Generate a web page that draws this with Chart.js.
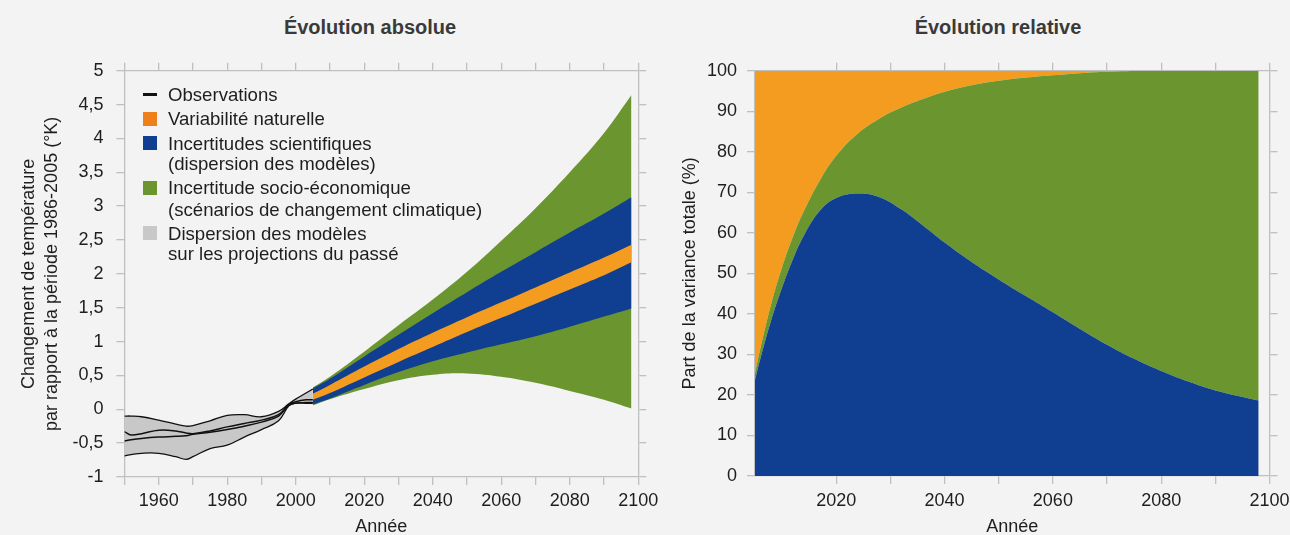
<!DOCTYPE html>
<html>
<head>
<meta charset="utf-8">
<script src="https://cdn.jsdelivr.net/npm/chart.js@4.4.1/dist/chart.umd.min.js"></script>
<style>
html,body{margin:0;padding:0;background:#f3f3f3;width:1290px;height:535px;overflow:hidden;font-family:"Liberation Sans",Arial,sans-serif;}
.wrap{position:absolute;top:0;height:535px}
#w1{left:0;width:670px}
#w2{left:650px;width:640px}
.title{position:absolute;top:15px;font-weight:bold;font-size:20px;line-height:24px;color:#3a3a3a;text-align:center;width:400px;white-space:nowrap}
.lg{position:absolute;font-size:18.6px;line-height:21px;color:#1e1e1e;white-space:nowrap}
.sw{position:absolute;width:14px;height:14px}
</style>
</head>
<body>
<div class="title" style="left:170px">Évolution absolue</div>
<div class="title" style="left:798px">Évolution relative</div>
<div class="wrap" id="w1"><canvas id="c1" width="670" height="535"></canvas></div>
<div class="wrap" id="w2"><canvas id="c2" width="640" height="535"></canvas></div>

<div class="sw" style="left:143px;top:93px;height:2.5px;background:#111"></div>
<div class="lg" style="left:168px;top:84px">Observations</div>
<div class="sw" style="left:143px;top:112px;background:#ee7f1b"></div>
<div class="lg" style="left:168px;top:108px">Variabilité naturelle</div>
<div class="sw" style="left:143px;top:136px;background:#103f91"></div>
<div class="lg" style="left:168px;top:132.5px">Incertitudes scientifiques</div>
<div class="lg" style="left:168px;top:153.3px">(dispersion des modèles)</div>
<div class="sw" style="left:143px;top:181px;background:#6b962f"></div>
<div class="lg" style="left:168px;top:177.3px">Incertitude socio-économique</div>
<div class="lg" style="left:168px;top:198.6px">(scénarios de changement climatique)</div>
<div class="sw" style="left:143px;top:226px;background:#c7c8c7"></div>
<div class="lg" style="left:168px;top:222.6px">Dispersion des modèles</div>
<div class="lg" style="left:168px;top:243.3px">sur les projections du passé</div>

<script>
// ---------- Left chart data (°K relative to 1986-2005) ----------
const histYears = [1950,1952,1955,1960,1965,1968,1970,1975,1980,1985,1990,1995,1998,2000,2003,2005];
const histUpper = [-0.10,-0.10,-0.11,-0.16,-0.22,-0.25,-0.24,-0.17,-0.09,-0.08,-0.11,-0.03,0.08,0.15,0.24,0.30];
const histLower = [-0.69,-0.67,-0.65,-0.65,-0.70,-0.74,-0.70,-0.58,-0.53,-0.41,-0.30,-0.17,0.05,0.09,0.10,0.10];
const obsA      = [-0.33,-0.38,-0.36,-0.31,-0.32,-0.35,-0.36,-0.32,-0.26,-0.21,-0.16,-0.08,0.07,0.11,0.14,0.14];
const obsB      = [-0.47,-0.45,-0.43,-0.41,-0.40,-0.39,-0.37,-0.34,-0.30,-0.25,-0.19,-0.10,0.06,0.09,0.09,0.09];

const projYears   = [2005,2010,2020,2030,2040,2050,2060,2070,2080,2090,2098];
const socioHigh   = [0.32,0.48,0.85,1.24,1.62,2.03,2.49,2.97,3.50,4.08,4.64];
const modelHigh   = [0.31,0.45,0.78,1.10,1.42,1.73,2.03,2.32,2.61,2.89,3.13];
const naturalHigh = [0.23,0.36,0.63,0.89,1.13,1.36,1.58,1.80,2.02,2.24,2.43];
const naturalLow  = [0.14,0.24,0.47,0.70,0.92,1.14,1.35,1.56,1.77,1.98,2.17];
const modelLow    = [0.07,0.16,0.36,0.55,0.71,0.84,0.96,1.08,1.22,1.37,1.49];
const socioLow    = [0.06,0.15,0.30,0.43,0.51,0.53,0.48,0.39,0.27,0.14,0.01];

// ---------- Right chart data (% of total variance) ----------
const shareYears    = [2005,2006,2008,2010,2012,2014,2017,2020,2024,2028,2032,2036,2040,2045,2050,2055,2060,2065,2070,2075,2080,2085,2090,2098];
const shareModel    = [23.7,29,38.5,46.5,53.5,59.3,65.5,68.6,69.7,68.8,65.8,61.8,57.6,52.8,48.5,44.4,40.4,36.3,32.4,28.9,25.9,23.3,21.1,18.6];
const shareScenario = [1.6,2.5,4,5,5.5,6,7.5,10.4,14.8,19.4,25.1,31.2,37.2,43.6,49,53.9,58.5,63.1,67.35,71.05,74.1,76.7,78.9,81.4];
const shareNatural  = [74.7,68.5,57.5,48.5,41,34.7,27,21,15.5,11.8,9.1,7,5.2,3.6,2.5,1.7,1.1,0.6,0.25,0.05,0,0,0,0];

const C_GREEN = '#6b962f', C_BLUE = '#103f91', C_ORANGE = '#f49c20', C_GRAY = '#c7c8c7';
const GRID = '#c0c0c0', TXT = '#1e1e1e';
const FONT = '"Liberation Sans", Arial, sans-serif';
Chart.defaults.font.family = FONT;
Chart.defaults.font.size = 18;
Chart.defaults.color = TXT;

const pts = (xs, ys) => xs.map((x, i) => ({x: x, y: ys[i]}));
function fix(w, h) {
  return function (s) {
    if (w !== null) s.width = w;
    if (h !== null) s.height = h;
    s.paddingLeft = 0; s.paddingRight = 0; s.paddingTop = 0; s.paddingBottom = 0;
  };
}
const gridOpt = {drawOnChartArea: false, drawTicks: true, tickLength: 8, color: GRID, lineWidth: 1.3};
const borderOpt = {display: true, color: GRID, width: 1.3};

function band(data, fillTarget, color, order) {
  return {data: data, borderWidth: 0, pointRadius: 0, backgroundColor: color, borderColor: color,
          fill: fillTarget === null ? false : {target: fillTarget}, tension: 0.4, order: order};
}
function blackLine(data, w, fillTarget, order) {
  return {data: data, borderWidth: w, pointRadius: 0, borderColor: '#111', backgroundColor: C_GRAY,
          fill: fillTarget === null ? false : {target: fillTarget}, tension: 0.4, order: order};
}

new Chart(document.getElementById('c1'), {
  type: 'line',
  data: {
    datasets: [
      blackLine(pts(histYears, obsA), 1.5, null, 0),
      blackLine(pts(histYears, obsB), 1.5, null, 0),
      blackLine(pts(histYears, histUpper), 1.3, 3, 1),
      blackLine(pts(histYears, histLower), 1.3, null, 1),
      band(pts(projYears, naturalHigh), 5, C_ORANGE, 2),
      band(pts(projYears, naturalLow), null, C_ORANGE, 2),
      band(pts(projYears, modelHigh), 7, C_BLUE, 3),
      band(pts(projYears, modelLow), null, C_BLUE, 3),
      band(pts(projYears, socioHigh), 9, C_GREEN, 4),
      band(pts(projYears, socioLow), null, C_GREEN, 4)
    ]
  },
  options: {
    responsive: false, animation: false, devicePixelRatio: 1, events: [],
    layout: {padding: {left: 0, right: 23.7, top: 62.7, bottom: 0}},
    plugins: {legend: {display: false}, tooltip: {enabled: false}, filler: {drawTime: 'beforeDatasetsDraw'}},
    scales: {
      x: {type: 'linear', position: 'bottom', min: 1950, max: 2100,
          ticks: {stepSize: 10, autoSkip: false, maxRotation: 0, padding: 5, color: TXT,
                  callback: v => (v % 20 === 0 ? String(v) : '')},
          grid: gridOpt, border: borderOpt,
          title: {display: true, text: 'Année', color: TXT, font: {size: 18, lineHeight: 0.85}, padding: 0},
          afterFit: fix(null, 58)},
      x2: {type: 'linear', position: 'top', min: 1950, max: 2100,
           ticks: {stepSize: 10, autoSkip: false, display: false},
           grid: gridOpt, border: borderOpt, afterFit: fix(null, 8)},
      y: {type: 'linear', position: 'left', min: -1, max: 5,
          ticks: {stepSize: 0.5, autoSkip: false, padding: 13, color: TXT,
                  callback: v => String(Math.round(v * 10) / 10).replace('.', ',')},
          grid: gridOpt, border: borderOpt,
          title: {display: true, color: TXT,
                  text: ['Changement de température', 'par rapport à la période 1986-2005 (°K)'],
                  font: {size: 18, lineHeight: 1.278}, padding: {top: 17.3, bottom: 0}},
          afterFit: fix(124.4, null)},
      y2: {type: 'linear', position: 'right', min: -1, max: 5,
           ticks: {stepSize: 0.5, autoSkip: false, display: false},
           grid: gridOpt, border: borderOpt, afterFit: fix(8, null)}
    }
  }
});

function area(data, color, fill) {
  return {data: data, borderWidth: 0, pointRadius: 0, backgroundColor: color, borderColor: color,
          fill: fill, tension: 0.4};
}
const tens = s => { s.ticks = s.ticks.filter(t => Math.abs(t.value % 10) < 1e-9); };

new Chart(document.getElementById('c2'), {
  type: 'line',
  data: {
    datasets: [
      area(pts(shareYears, shareModel), C_BLUE, 'origin'),
      area(pts(shareYears, shareScenario), C_GREEN, '-1'),
      area(pts(shareYears, shareNatural), C_ORANGE, '-1')
    ]
  },
  options: {
    responsive: false, animation: false, devicePixelRatio: 1, events: [],
    layout: {padding: {left: 0, right: 12.5, top: 62.7, bottom: 0}},
    plugins: {legend: {display: false}, tooltip: {enabled: false}},
    scales: {
      x: {type: 'linear', position: 'bottom', min: 2005, max: 2100,
          afterBuildTicks: tens,
          ticks: {stepSize: 10, autoSkip: false, maxRotation: 0, padding: 6, color: TXT,
                  callback: v => (v % 20 === 0 ? String(v) : '')},
          grid: gridOpt, border: borderOpt,
          title: {display: true, text: 'Année', color: TXT, font: {size: 18, lineHeight: 0.85}, padding: 0},
          afterFit: fix(null, 59)},
      x2: {type: 'linear', position: 'top', min: 2005, max: 2100, afterBuildTicks: tens,
           ticks: {stepSize: 10, autoSkip: false, display: false},
           grid: gridOpt, border: borderOpt, afterFit: fix(null, 8)},
      y: {type: 'linear', position: 'left', min: 0, max: 100, stacked: true,
          ticks: {stepSize: 10, autoSkip: false, padding: 10, color: TXT},
          grid: gridOpt, border: borderOpt,
          title: {display: true, color: TXT, text: 'Part de la variance totale (%)',
                  font: {size: 18}, padding: {top: 29, bottom: 0}},
          afterFit: fix(105, null)},
      y2: {type: 'linear', position: 'right', min: 0, max: 100,
           ticks: {stepSize: 10, autoSkip: false, display: false},
           grid: gridOpt, border: borderOpt, afterFit: fix(8, null)}
    }
  }
});
</script>
</body>
</html>
